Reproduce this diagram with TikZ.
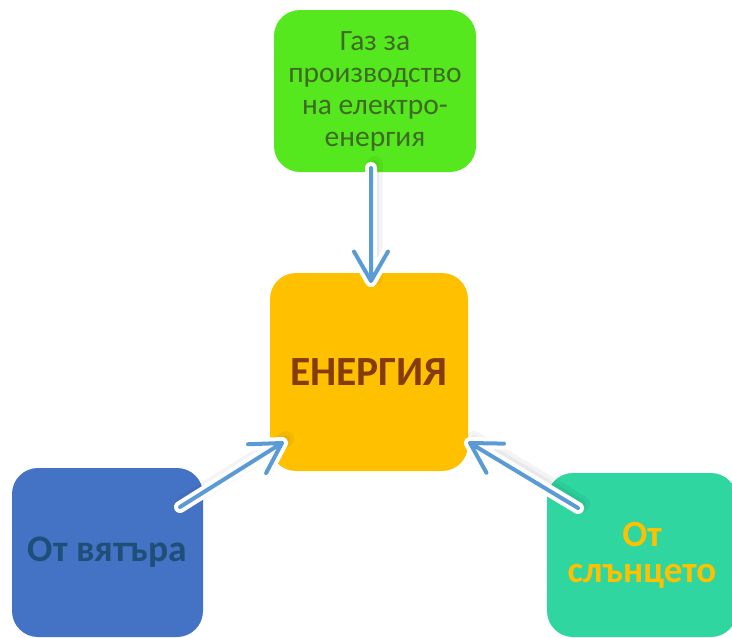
\documentclass[tikz,border=0pt]{standalone}
\usepackage{fontspec}
\setmainfont{Carlito}
\usepackage{xcolor}
\usepackage{tikz}
\usetikzlibrary{calc}
\definecolor{gasgreen}{HTML}{56E81E}
\definecolor{gastext}{HTML}{3E6B22}
\definecolor{enorange}{HTML}{FFC000}
\definecolor{entext}{HTML}{843C0C}
\definecolor{windblue}{HTML}{4472C4}
\definecolor{windtext}{HTML}{1F4E79}
\definecolor{sunteal}{HTML}{2FD6A0}
\definecolor{suntext}{HTML}{FFC000}
\definecolor{arrowblue}{HTML}{5B9BD5}
\tikzstyle{box}=[rectangle,rounded corners=26pt,inner sep=0pt,align=center]
\tikzstyle{arrowshade}=[draw=black,opacity=0.045,line width=20pt,line cap=round,line join=round]
\tikzstyle{arrowrim}=[draw=white,line width=12pt,line cap=round,line join=round]
\tikzstyle{arrowcore}=[draw=arrowblue,line width=4pt,line cap=round,line join=round]

\begin{document}
\begin{tikzpicture}[x=1pt,y=-1pt]

  \useasboundingbox (0,0) rectangle (732,638);

  \foreach \x/\y/\w/\h/\name/\col/\tcol/\txt/\fnt in {
      375/91/202/162/gas/gasgreen/gastext/{Газ за\\производство\\на електро-\\енергия}/{\fontsize{29.5}{32}\selectfont},
      369/372/198/198/energy/enorange/entext/{ЕНЕРГИЯ}/{\fontsize{41.5}{44}\selectfont\bfseries},
      107.5/552.5/191/169/wind/windblue/windtext/{От вятъра}/{\fontsize{37.5}{40}\selectfont\bfseries},
      642/555/190/164/sun/sunteal/suntext/{От\\слънцето}/{\fontsize{37}{36}\selectfont\bfseries}}
          \node[box,fill=\col,text=\tcol,minimum width=\w pt,minimum height=\h pt,font=\fnt] (\name) at (\x,\y) {\txt};

  % arrow ends
  \foreach \x/\y/\name in {371/168/gastail, 371/281/gastip, 180/507/windtail, 282/443/windtip, 578/508/suntail, 470/443/suntip}
          \coordinate (\name) at (\x,\y);

  \foreach \src/\dst in {gastail/gastip, windtail/windtip, suntail/suntip}
  {
     \foreach \k in {1,2}
        \path[arrowshade,line width=\k*8pt] ([shift={(4,-4)}]\src) -- ([shift={(4,-4)}]\dst);
     \foreach \sty in {arrowrim, arrowcore}
        \path[\sty] (\src) -- (\dst)
              ($(\dst)!34pt!30:(\src)$) -- (\dst) -- ($(\dst)!34pt!-30:(\src)$);
  }

\end{tikzpicture}
\end{document}
